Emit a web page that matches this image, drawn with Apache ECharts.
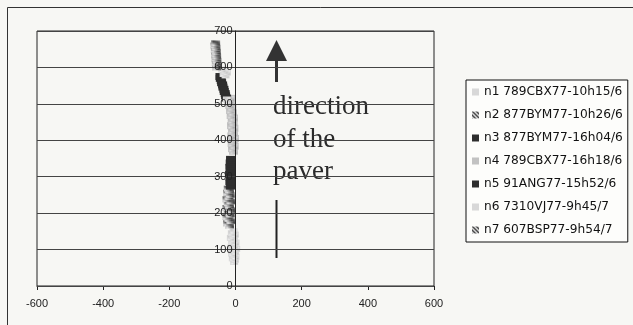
<!DOCTYPE html>
<html><head><meta charset="utf-8">
<script src="https://cdn.jsdelivr.net/npm/echarts@6/dist/echarts.min.js"></script>
<style>html,body{margin:0;padding:0;background:#f7f7f4}#c{width:633px;height:325px}</style>
</head><body><div id="c"></div>
<script>
// ---- data ----
const seriesNames = [
  'n1 789CBX77-10h15/6','n2 877BYM77-10h26/6','n3 877BYM77-16h04/6',
  'n4 789CBX77-16h18/6','n5 91ANG77-15h52/6','n6 7310VJ77-9h45/7','n7 607BSP77-9h54/7'
];
const xTicks = [-600,-400,-200,0,200,400,600];
const yTicks = [0,100,200,300,400,500,600,700];
const n1 = [[-4,66],[-2,72],[-8,76],[0,80],[-5,85],[-10,89],[-1,93],[-6,98],[2,102],[-12,106],[-4,110],[-8,115],[0,119],[-10,123],[-5,128],[-14,132],[-7,137],[-2,141],[-11,145],[-6,150]];
const n2 = [[-18,166],[-24,172],[-14,178],[-20,184],[-26,190],[-16,196],[-22,202],[-12,208],[-26,214],[-18,220],[-22,226],[-14,232],[-26,238],[-20,244],[-16,250],[-24,256],[-18,262],[-22,267]];
const n3 = [[-15,273],[-13,279],[-17,285],[-12,291],[-16,297],[-14,303],[-18,309],[-13,315],[-15,321],[-17,327],[-12,333],[-16,339],[-14,345],[-15,349]];
const n4 = [[-6,370],[-9,377],[-4,384],[-10,391],[-7,398],[-3,405],[-11,412],[-6,419],[-9,426],[-5,433],[-12,440],[-7,447],[-10,454],[-6,461],[-13,468],[-9,475],[-15,482],[-11,489],[-17,496],[-13,503],[-18,510],[-15,515]];
const n5 = [[-27,516],[-30,522],[-31,528],[-34,534],[-35,540],[-38,546],[-39,552],[-42,558],[-43,564],[-46,570],[-47,575]];
const n6 = [[-22,505],[-26,512],[-30,578],[-36,582],[-26,586],[-33,590],[-40,594]];
const n7 = [[-57,600],[-55,606],[-58,612],[-56,618],[-59,624],[-57,630],[-60,636],[-58,642],[-61,648],[-59,654],[-62,660],[-60,666]];
const seriesData = [n1,n2,n3,n4,n5,n6,n7];

// ---- fill patterns ----
function pattern(kind){
  const c = document.createElement('canvas');
  if (kind === 'hatch'){
    c.width = 4; c.height = 4;
    const g = c.getContext('2d');
    g.fillStyle = '#d8d8d8'; g.fillRect(0,0,4,4);
    g.fillStyle = '#4a4a4a';
    for (let i=0;i<4;i++){ g.fillRect(i,i,1,1); g.fillRect((i+1)%4,i,1,1); }
  } else {
    c.width = 2; c.height = 2;
    const g = c.getContext('2d');
    const dark = kind === 'dot' ? '#a8a8a8' : '#c4c4c4';
    const light = kind === 'dot' ? '#dcdcdc' : '#ececec';
    g.fillStyle = light; g.fillRect(0,0,2,2);
    g.fillStyle = dark; g.fillRect(0,0,1,1); g.fillRect(1,1,1,1);
  }
  return {image: c, repeat: 'repeat'};
}
const styles = [
  {color: pattern('sparse'), size:[8,6]},
  {color: pattern('hatch'), size:[9,6]},
  {color: '#2e2e2e', size:[9,6]},
  {color: pattern('dot'), size:[9,7]},
  {color: '#2e2e2e', size:[9,7]},
  {color: pattern('sparse'), size:[8,6]},
  {color: pattern('hatch'), size:[9,6]}
];

const gridLeft = 37, gridRight = 199, W = 633;
const plotW = W - gridLeft - gridRight;
const zeroShift = -plotW * (0 - xTicks[0]) / (xTicks[xTicks.length-1] - xTicks[0]);

const chart = echarts.init(document.getElementById('c'), null, {renderer:'canvas'});
chart.setOption({
  backgroundColor: '#f7f7f4',
  animation: false,
  grid: {left: gridLeft, right: gridRight, top: 31, bottom: 39, show: true, borderColor: '#222', borderWidth: 1, backgroundColor: 'transparent'},
  xAxis: {
    type: 'value', min: xTicks[0], max: xTicks[xTicks.length-1], interval: 200,
    axisLine: {show: true, onZero: false, lineStyle: {color: '#222', width: 1}},
    axisTick: {show: true, length: 4, lineStyle: {color: '#222'}},
    axisLabel: {margin: 12, fontFamily: 'Liberation Sans', fontSize: 11, color: '#222'},
    splitLine: {show: false}
  },
  yAxis: {
    type: 'value', min: yTicks[0], max: yTicks[yTicks.length-1], interval: 100,
    position: 'left', offset: zeroShift, z: 5,
    axisLine: {show: true, onZero: false, lineStyle: {color: '#222', width: 1}},
    axisTick: {show: false},
    axisLabel: {margin: 3, fontFamily: 'Liberation Sans', fontSize: 11, color: '#222'},
    splitLine: {show: true, lineStyle: {color: '#444', width: 1}}
  },
  legend: {
    orient: 'vertical', left: 466, top: 80,
    padding: [6, 5, 6, 6],
    itemGap: 11, itemWidth: 7, itemHeight: 7, icon: 'rect',
    backgroundColor: '#fdfdfb', borderColor: '#111', borderWidth: 1,
    textStyle: {fontFamily: 'DejaVu Sans', fontSize: 12.2, color: '#111', lineHeight: 12},
    data: seriesNames
  },
  series: seriesData.map((d, i) => ({
    name: seriesNames[i], type: 'scatter', data: d,
    symbol: 'rect', symbolSize: styles[i].size,
    itemStyle: {color: styles[i].color, opacity: 1}
  })),
  graphic: [
    {type: 'rect', shape: {x: 7.5, y: 7.5, width: 800, height: 500}, style: {fill: 'none', stroke: '#333', lineWidth: 1}, silent: true},
    {type: 'polygon', shape: {points: [[266,61],[287,61],[276.5,40]]}, style: {fill: '#333'}},
    {type: 'line', shape: {x1: 276.5, y1: 60, x2: 276.5, y2: 82}, style: {stroke: '#333', lineWidth: 3}},
    {type: 'line', shape: {x1: 276.5, y1: 200, x2: 276.5, y2: 258}, style: {stroke: '#222', lineWidth: 2}},
    {type: 'text', x: 273, y: 107, style: {text: 'direction', font: '27px "Liberation Serif"', fill: '#2a2a2a', verticalAlign: 'middle', align: 'left'}},
    {type: 'text', x: 273, y: 140, style: {text: 'of the', font: '27px "Liberation Serif"', fill: '#2a2a2a', verticalAlign: 'middle', align: 'left'}},
    {type: 'text', x: 273, y: 172, style: {text: 'paver', font: '27px "Liberation Serif"', fill: '#2a2a2a', verticalAlign: 'middle', align: 'left'}}
  ]
});
</script></body></html>
